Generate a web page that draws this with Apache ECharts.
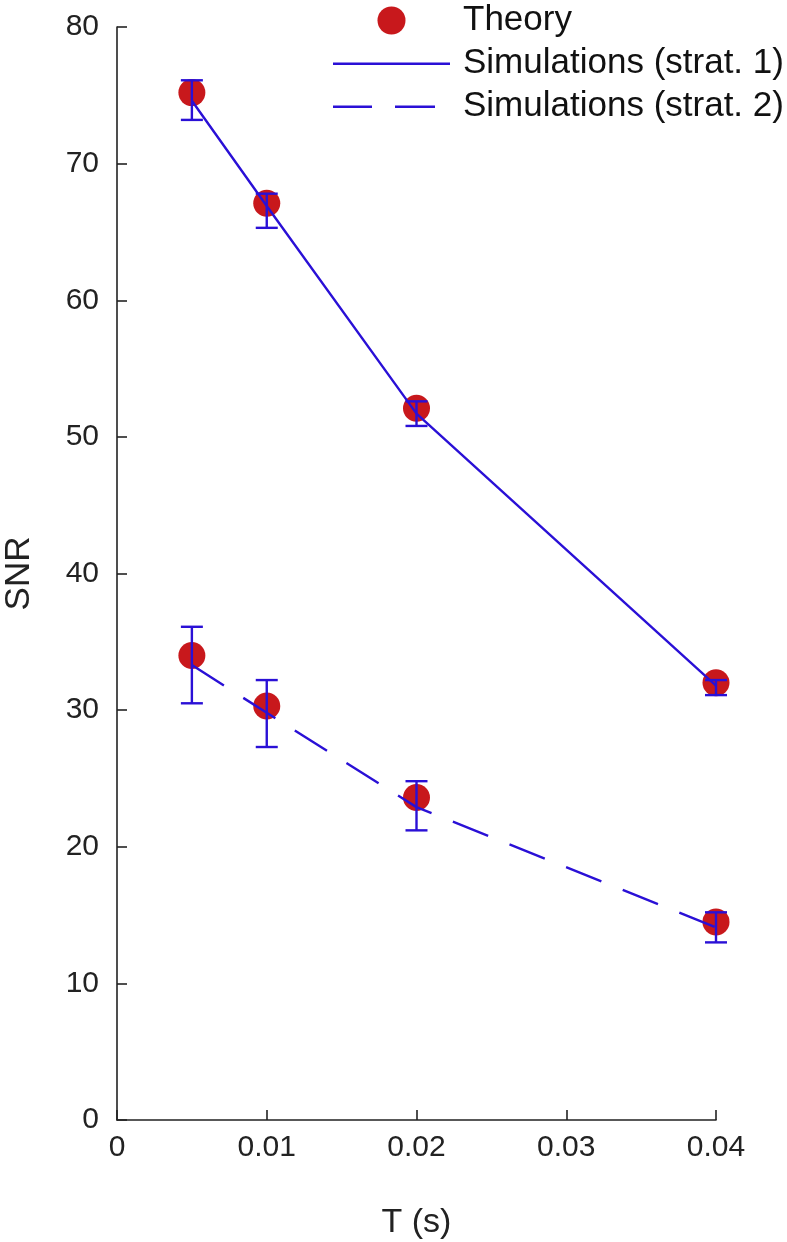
<!DOCTYPE html>
<html lang="en">
<head>
    <meta charset="UTF-8">
    <title>SNR vs T</title>
    <script src="https://cdn.jsdelivr.net/npm/echarts@6/dist/echarts.min.js"></script>
    <style>
        html, body { margin: 0; padding: 0; background: #fff; }
        #chart { width: 787px; height: 1242px; }
    </style>
</head>
<body>
    <div id="chart"></div>
    <script>
        // 数据
        var tValues = [0.005, 0.01, 0.02, 0.04];
        var theory1 = [75.2, 67.1, 52.1, 32.0];
        var theory2 = [34.0, 30.3, 23.6, 14.5];
        var sim1 = [74.6, 66.9, 51.7, 31.8];
        var sim1Lo = [73.2, 65.3, 50.8, 31.1];
        var sim1Hi = [76.1, 67.8, 52.6, 32.2];
        var sim2 = [33.3, 29.8, 22.9, 14.1];
        var sim2Lo = [30.5, 27.3, 21.2, 13.0];
        var sim2Hi = [36.1, 32.2, 24.8, 15.2];
        var yTicks = [0, 10, 20, 30, 40, 50, 60, 70, 80];

        var blue = '#2a10d6';
        var red = '#c8181c';
        var axisColor = '#222';
        var font = 'Liberation Sans';

        // 图例图标：实线和虚线（117x28 的框）
        var solidIcon = 'path://M0,13H117V15.4H0Z M0,0L0,0Z M117,28L117,28Z';
        var dashIcon = 'path://M0,13H39V15.4H0Z M62,13H102V15.4H62Z M0,0L0,0Z M117,28L117,28Z';

        function pairs(xs, ys) {
            return xs.map(function (x, i) { return [x, ys[i]]; });
        }

        var theoryData = pairs(tValues, theory1).concat(pairs(tValues, theory2));
        var errData = tValues.map(function (t, i) { return [t, sim1Lo[i], sim1Hi[i]]; })
            .concat(tValues.map(function (t, i) { return [t, sim2Lo[i], sim2Hi[i]]; }));

        function renderErr(params, api) {
            var lo = api.coord([api.value(0), api.value(1)]);
            var hi = api.coord([api.value(0), api.value(2)]);
            var w = 11;
            var style = { stroke: blue, lineWidth: 2.4, fill: null };
            return {
                type: 'group',
                children: [
                    { type: 'line', shape: { x1: hi[0], y1: hi[1], x2: lo[0], y2: lo[1] }, style: style },
                    { type: 'line', shape: { x1: hi[0] - w, y1: hi[1], x2: hi[0] + w, y2: hi[1] }, style: style },
                    { type: 'line', shape: { x1: lo[0] - w, y1: lo[1], x2: lo[0] + w, y2: lo[1] }, style: style }
                ]
            };
        }

        var chart = echarts.init(document.getElementById('chart'));
        var option = {
            animation: false,
            backgroundColor: '#fff',
            textStyle: { fontFamily: font },
            grid: { left: 117, right: 71, top: 27, bottom: 122, containLabel: false, outerBoundsMode: 'none' },
            legend: {
                orient: 'vertical',
                left: 333,
                top: 3,
                padding: 0,
                itemWidth: 117,
                itemHeight: 28,
                itemGap: 8,
                itemStyle: { borderWidth: 0 },
                data: [
                    { name: 'Theory', icon: 'circle' },
                    { name: 'Simulations (strat. 1)', icon: solidIcon, itemStyle: { color: blue, borderWidth: 0 } },
                    { name: 'Simulations (strat. 2)', icon: dashIcon, itemStyle: { color: blue, borderWidth: 0 } }
                ],
                textStyle: { fontSize: 35, lineHeight: 35, color: '#111', fontFamily: font, padding: [0, 0, 0, 8] }
            },
            xAxis: {
                type: 'value',
                min: 0,
                max: 0.04,
                interval: 0.01,
                name: 'T (s)',
                nameLocation: 'middle',
                nameGap: 86,
                nameTextStyle: { fontSize: 34, color: axisColor, fontFamily: font },
                splitLine: { show: false },
                axisLine: { lineStyle: { color: axisColor, width: 1.6 } },
                axisTick: { inside: true, length: 10, lineStyle: { color: axisColor, width: 1.6 } },
                axisLabel: { fontSize: 30, color: axisColor, margin: 13, fontFamily: font }
            },
            yAxis: {
                type: 'value',
                min: yTicks[0],
                max: yTicks[yTicks.length - 1],
                interval: 10,
                name: 'SNR',
                nameLocation: 'middle',
                nameGap: 80,
                nameTextStyle: { fontSize: 35, color: axisColor, fontFamily: font },
                splitLine: { show: false },
                axisLine: { show: true, lineStyle: { color: axisColor, width: 1.6 } },
                axisTick: { show: true, inside: true, length: 10, lineStyle: { color: axisColor, width: 1.6 } },
                axisLabel: { fontSize: 30, color: axisColor, margin: 18, fontFamily: font }
            },
            series: [
                {
                    name: 'Theory',
                    type: 'scatter',
                    symbol: 'circle',
                    symbolSize: 27,
                    itemStyle: { color: red, opacity: 1 },
                    z: 1,
                    data: theoryData
                },
                {
                    name: 'Simulations (strat. 1)',
                    type: 'line',
                    symbol: 'none',
                    lineStyle: { color: blue, width: 2.4 },
                    itemStyle: { color: blue },
                    z: 3,
                    data: pairs(tValues, sim1)
                },
                {
                    name: 'Simulations (strat. 2)',
                    type: 'line',
                    symbol: 'none',
                    lineStyle: { color: blue, width: 2.4, type: [38, 23] },
                    itemStyle: { color: blue },
                    z: 3,
                    data: pairs(tValues, sim2)
                },
                {
                    name: 'err',
                    type: 'custom',
                    renderItem: renderErr,
                    z: 4,
                    data: errData
                }
            ]
        };
        chart.setOption(option);
    </script>
</body>
</html>
